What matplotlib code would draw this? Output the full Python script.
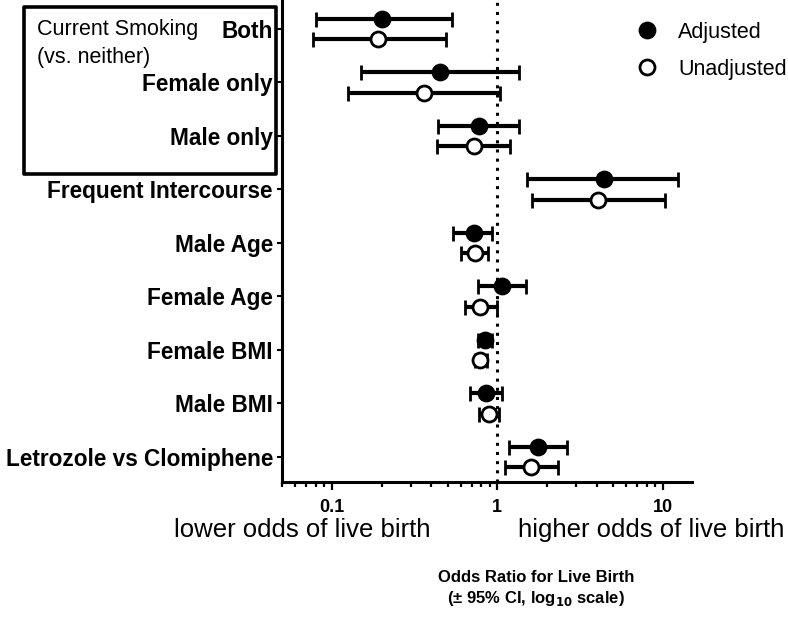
import matplotlib
matplotlib.use("Agg")
import matplotlib.pyplot as plt
from matplotlib.lines import Line2D
from matplotlib.patches import Rectangle
import numpy as np

plt.rcParams["font.family"] = ["Liberation Sans", "DejaVu Sans"]

# rows, top to bottom
labels = ["Both", "Female only", "Male only", "Frequent Intercourse",
          "Male Age", "Female Age", "Female BMI", "Male BMI",
          "Letrozole vs Clomiphene"]

adj_or = [0.20, 0.45, 0.77, 4.38, 0.72, 1.07, 0.84, 0.85, 1.75]
adj_lo = [0.080, 0.15, 0.44, 1.52, 0.54, 0.76, 0.76, 0.68, 1.18]
adj_hi = [0.53, 1.35, 1.35, 12.4, 0.93, 1.50, 0.93, 1.06, 2.63]

unadj_or = [0.19, 0.36, 0.72, 4.08, 0.73, 0.79, 0.79, 0.89, 1.59]
unadj_lo = [0.077, 0.125, 0.43, 1.61, 0.60, 0.64, 0.73, 0.77, 1.12]
unadj_hi = [0.49, 1.04, 1.20, 10.3, 0.88, 1.00, 0.87, 1.02, 2.31]

xticks = [0.1, 1, 10]
xtick_labels = ["0.1", "1", "10"]

W, H = 788, 617
fig = plt.figure(figsize=(W / 100, H / 100), dpi=100)
ax = fig.add_axes([282 / W, 1 - 482 / H, 410 / W, 482 / H])

rows = np.arange(len(labels))
off = 0.19


def draw(vals, lo, hi, dy, face):
    vals = np.array(vals)
    err = [vals - np.array(lo), np.array(hi) - vals]
    ax.errorbar(vals, rows + dy, xerr=err, fmt="o", color="black",
                ecolor="black", elinewidth=3.0, capsize=5.4, capthick=3.0,
                markersize=10.8, markerfacecolor=face,
                markeredgecolor="black", markeredgewidth=2.0, zorder=3)


draw(adj_or, adj_lo, adj_hi, -off, "black")
draw(unadj_or, unadj_lo, unadj_hi, off, "white")

ax.axvline(1, color="black", lw=2.2, linestyle=(0, (1, 2.0)), zorder=1)

ax.set_xscale("log")
ax.set_xlim(0.05, 15)
ax.set_ylim(8.47, -0.54)

ax.set_xticks(xticks)
ax.set_xticklabels(xtick_labels, fontsize=13, fontweight="bold")
ax.set_yticks(rows)
ax.set_yticklabels(labels, fontsize=16.3, fontweight="bold")

ax.tick_params(axis="x", which="major", length=6, width=1.6, pad=6)
ax.tick_params(axis="x", which="minor", length=3.5, width=1.6)
ax.tick_params(axis="y", length=3.5, width=1.5, pad=3)

for s in ["top", "right"]:
    ax.spines[s].set_visible(False)
for s in ["left", "bottom"]:
    ax.spines[s].set_linewidth(2.2)

# group box for smoking rows
fig.patches.append(Rectangle((24 / W, 1 - 174 / H), 252 / W, 167 / H,
                             transform=fig.transFigure, fill=False,
                             lw=2.6, joinstyle="round", zorder=5))
fig.text(37 / W, 1 - 30 / H, "Current Smoking", fontsize=15.5, va="center")
fig.text(37 / W, 1 - 57 / H, "(vs. neither)", fontsize=15.5, va="center")

handles = [
    Line2D([], [], marker="o", ls="none", ms=10.8, mfc="black",
           mec="black", mew=2.0),
    Line2D([], [], marker="o", ls="none", ms=10.8, mfc="white",
           mec="black", mew=2.0),
]
fig.legend(handles, ["Adjusted", "Unadjusted"], loc="upper left",
           bbox_to_anchor=(636 / W, 1 - 22 / H), frameon=False,
           fontsize=15.5, handlelength=1.0, handletextpad=0.95,
           labelspacing=0.74, borderpad=0, borderaxespad=0)

fig.text(430 / W, 1 - 530 / H, "lower odds of live birth", fontsize=18.5,
         ha="right", va="center")
fig.text(518 / W, 1 - 530 / H, "higher odds of live birth", fontsize=18.5,
         ha="left", va="center")

fig.text(536 / W, 1 - 578 / H, "Odds Ratio for Live Birth", fontsize=12,
         fontweight="bold", ha="center", va="center")
fig.text(536 / W, 1 - 599 / H, r"(± 95% CI, log$_{\mathbf{10}}$ scale)",
         fontsize=12, fontweight="bold", ha="center", va="center")

fig.savefig("out.png", dpi=100)
